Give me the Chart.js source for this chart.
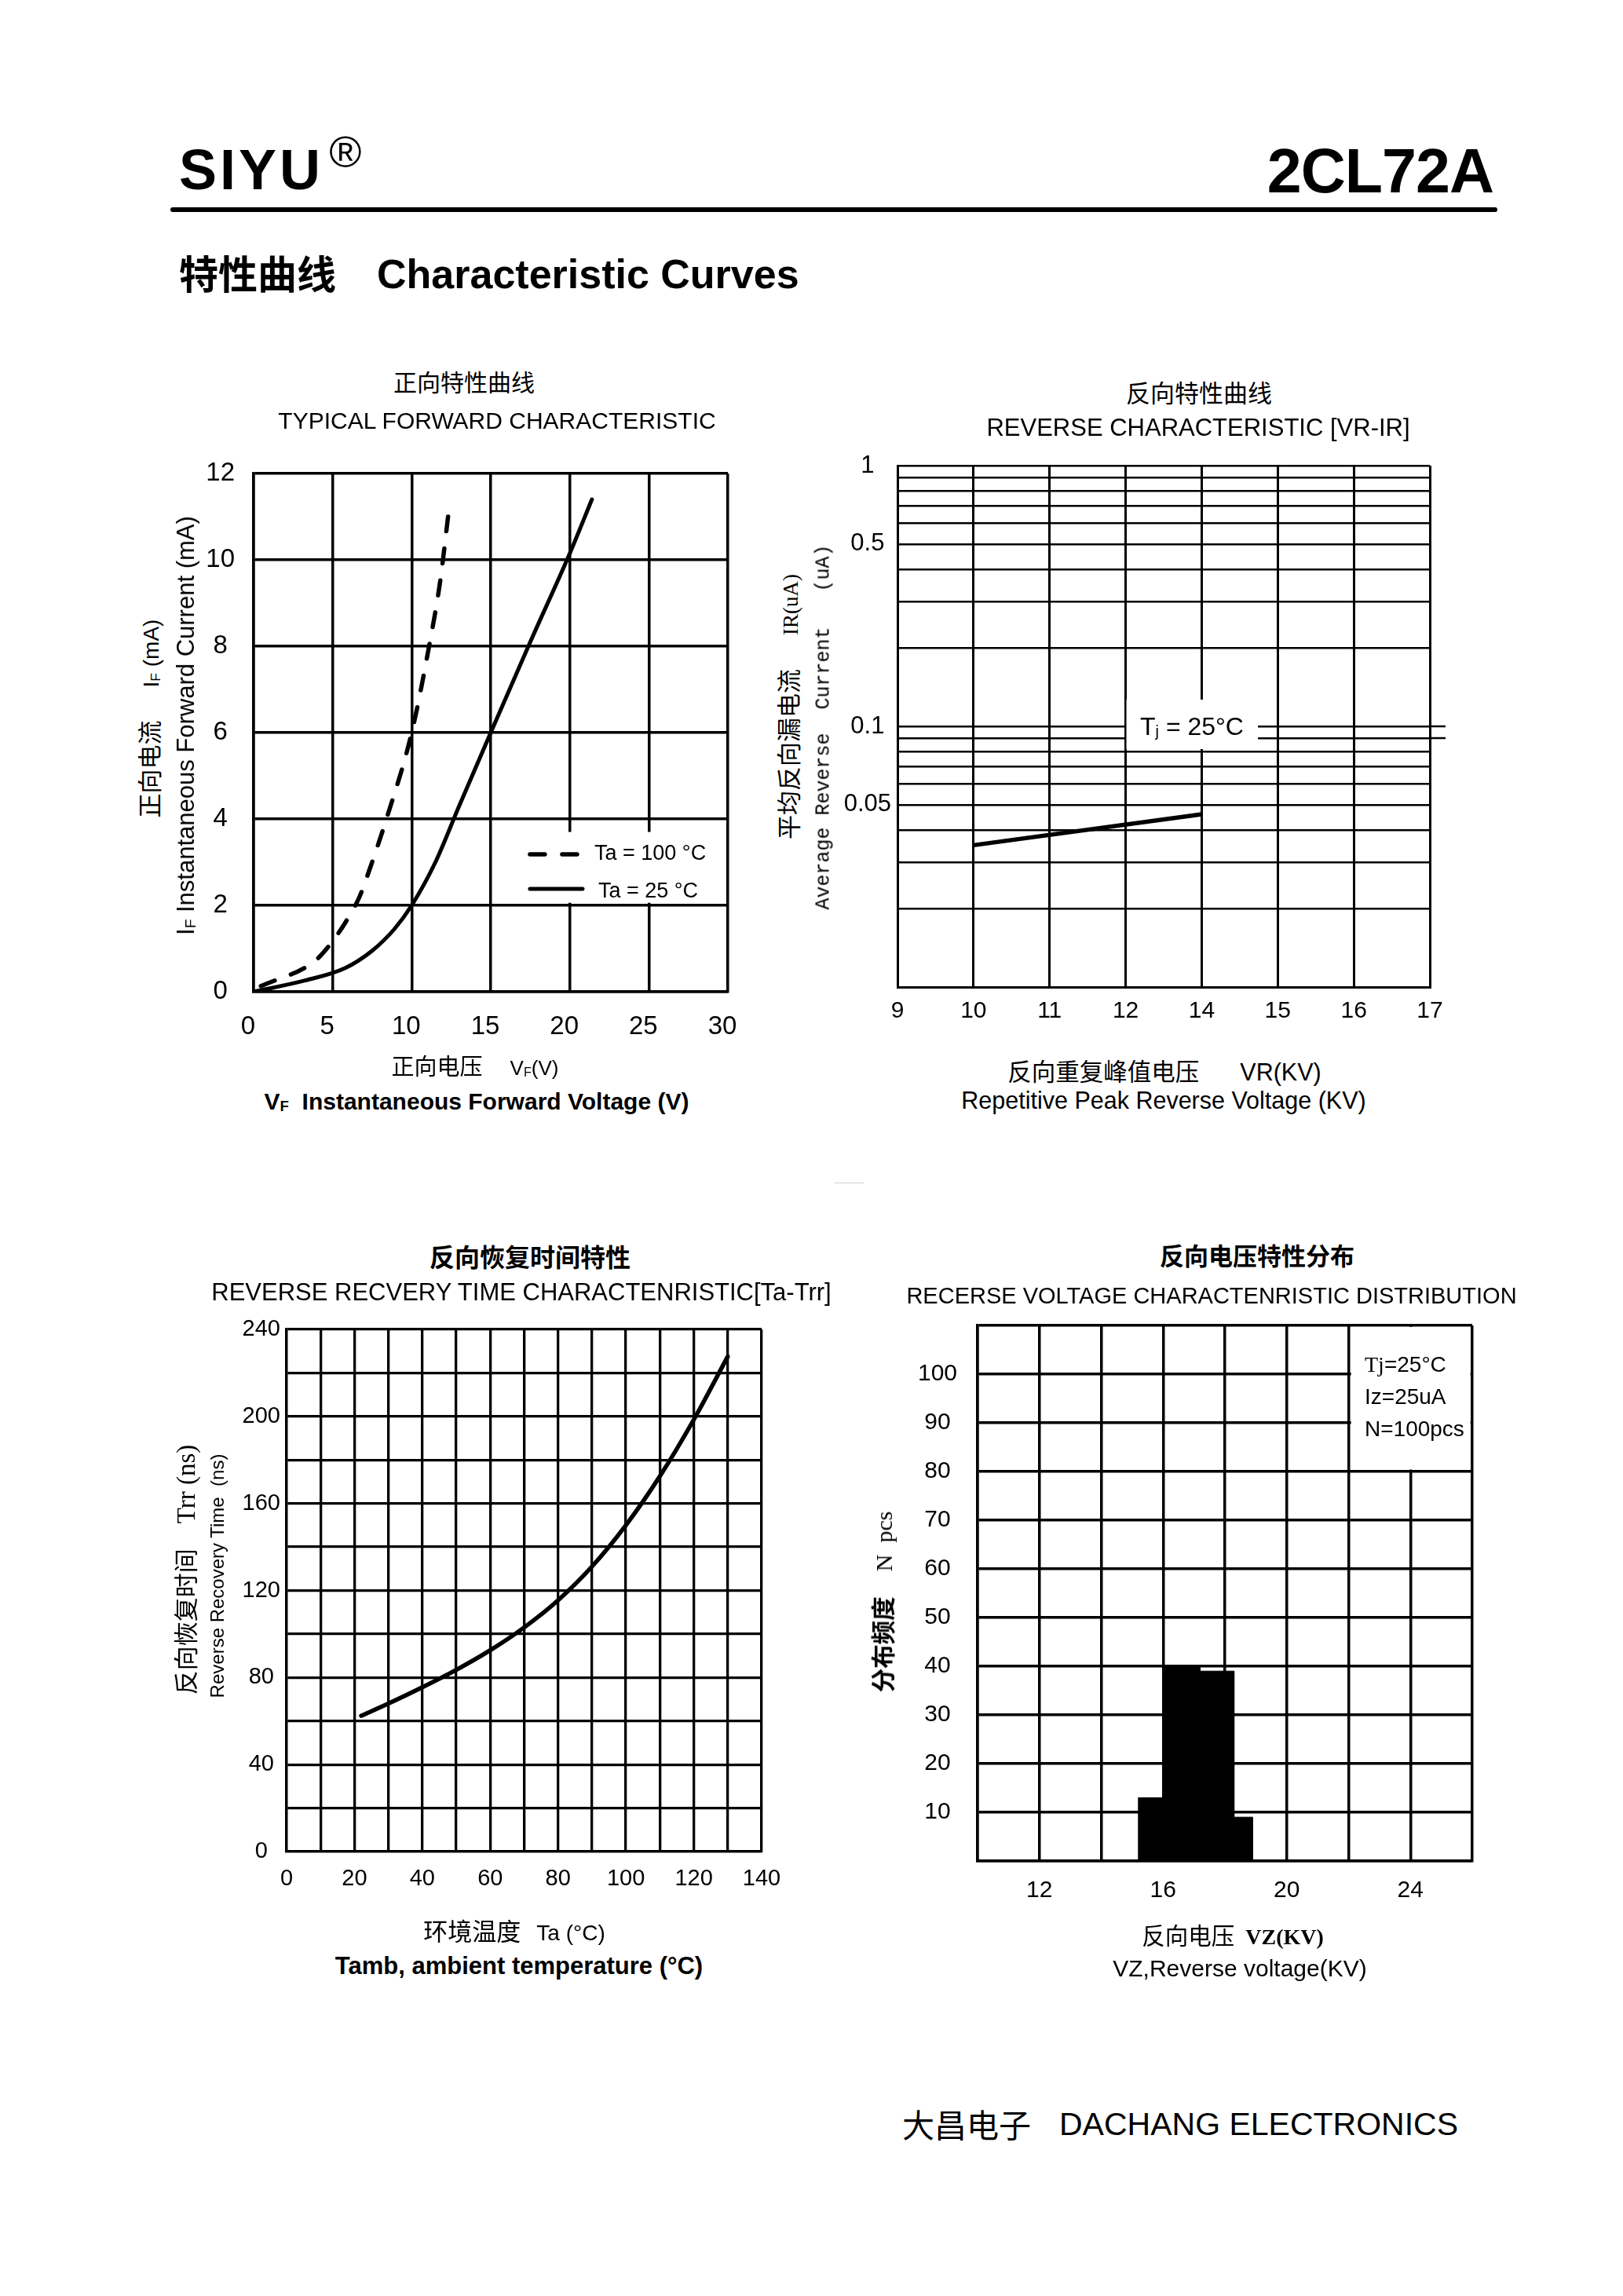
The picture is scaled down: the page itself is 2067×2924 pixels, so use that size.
<!DOCTYPE html>
<html><head><meta charset="utf-8">
<script src="https://cdn.jsdelivr.net/npm/chart.js@4.4.1/dist/chart.umd.min.js"></script>
<style>
html,body{margin:0;padding:0;background:#fff;}
#page{position:relative;width:2067px;height:2924px;background:#fff;overflow:hidden;}
.t{position:absolute;white-space:pre;line-height:1;color:#000;font-family:'Liberation Sans',Arial,sans-serif;z-index:5;}
.cjk{font-family:'Noto Sans CJK SC','Noto Sans CJK JP',sans-serif;}
.serif{font-family:'Liberation Serif','Times New Roman',serif;}
canvas{position:absolute;z-index:1;}
sub{font-size:0.62em;vertical-align:-0.12em;line-height:0;}
</style></head><body><div id="page"></div>
<script>
// ---------------- DATA ----------------
// Chart 1: typical forward characteristic
const fwdXTicks = [0, 5, 10, 15, 20, 25, 30];
const fwdYTicks = [0, 2, 4, 6, 8, 10, 12];
const fwd25V = [0, 3.25, 5.8, 7.5, 8.9, 10, 11.5, 13, 15, 17.5, 20, 21.4];
const fwd25I = [0, 0.26, 0.55, 0.95, 1.45, 2.0, 3.0, 4.3, 6.0, 8.1, 10.15, 11.4];
const fwd100V = [0.46, 3.8, 4.7, 5.8, 6.7, 7.4, 8.4, 10, 11.1, 11.8, 12.3];
const fwd100I = [0.13, 0.69, 1.03, 1.6, 2.2, 2.9, 4.0, 6.0, 8.0, 9.5, 11.0];
const fwdSeriesNames = ['Ta = 100 °C', 'Ta = 25 °C'];

// Chart 2: reverse characteristic (log IR)
const vrLabels = ['9', '10', '11', '12', '14', '15', '16', '17'];
const irGrid = [0.01, 0.02, 0.03, 0.04, 0.05, 0.06, 0.07, 0.08, 0.09, 0.1, 0.2, 0.3, 0.4, 0.5, 0.6, 0.7, 0.8, 0.9, 1];
const irTickLabels = [1, 0.5, 0.1, 0.05];
const irCurveVR = ['10', '14'];
const irCurveIR = [0.035, 0.046];

// Chart 3: reverse recovery time vs ambient temperature
const taGrid = [0, 10, 20, 30, 40, 50, 60, 70, 80, 90, 100, 110, 120, 130, 140];
const taTickLabels = [0, 20, 40, 60, 80, 100, 120, 140];
const trrGrid = [0, 20, 40, 60, 80, 100, 120, 140, 160, 180, 200, 220, 240];
const trrTickLabels = [0, 40, 80, 120, 160, 200, 240];
const trrTa = [22, 30, 40, 50, 60, 70, 80, 90, 100, 110, 120, 130];
const trrNs = [62.4, 68, 75.5, 83.5, 92.5, 103, 115.5, 131, 150, 172.5, 198.5, 227.5];

// Chart 4: reverse voltage distribution
const vzGrid = [10, 12, 14, 16, 18, 20, 22, 24, 26];
const vzTickLabels = [12, 16, 20, 24];
const nGrid = [0, 10, 20, 30, 40, 50, 60, 70, 80, 90, 100, 110];
const nTickLabels = [10, 20, 30, 40, 50, 60, 70, 80, 90, 100];
const vzBinEdges = [15.2, 16.0, 17.2, 18.3, 18.9];
const vzCounts = [13, 40, 39, 9];

// ---------------- HELPERS ----------------
const SANS = "'Liberation Sans', Arial, sans-serif";
const CJK = "'Noto Sans CJK SC', 'Noto Sans CJK JP', sans-serif";
const page = document.getElementById('page');

function T(html, x, y, font, o = {}) {
  const d = document.createElement('div');
  d.className = 't';
  d.innerHTML = html;
  d.style.left = x + 'px';
  d.style.top = y + 'px';
  d.style.font = font;
  if (o.ls) d.style.letterSpacing = o.ls;
  let tr = 'translate(-50%,-50%)';
  if (o.anchor === 'left') tr = 'translate(0,-50%)';
  if (o.anchor === 'right') tr = 'translate(-100%,-50%)';
  if (o.rot) tr = 'translate(-50%,-50%) rotate(-90deg)';
  d.style.transform = tr;
  page.appendChild(d);
  return d;
}
function box(x, y, w, h, bg, r) {
  const d = document.createElement('div');
  d.style.cssText = `position:absolute;left:${x}px;top:${y}px;width:${w}px;height:${h}px;background:${bg};border-radius:${r || 0}px;`;
  page.appendChild(d);
}
const pts = (xs, ys) => xs.map((x, i) => ({ x, y: ys[i] }));
const setTicks = arr => s => { s.ticks = arr.map(v => ({ value: v })); };
const labelIf = arr => v => (arr.includes(v) ? String(v) : '');

function decor(o) {
  return {
    id: 'decor',
    beforeDatasetsDraw(chart) {
      const ctx = chart.ctx, xs = chart.scales.x, ys = chart.scales.y;
      ctx.save();
      (o.masks || []).forEach(m => {
        const x1 = xs.getPixelForValue(m.x[0]), x2 = xs.getPixelForValue(m.x[1]);
        const y1 = ys.getPixelForValue(m.y[0]), y2 = ys.getPixelForValue(m.y[1]);
        ctx.fillStyle = '#fff';
        ctx.fillRect(Math.min(x1, x2), Math.min(y1, y2), Math.abs(x2 - x1), Math.abs(y2 - y1));
      });
      ctx.restore();
    },
    afterDatasetsDraw(chart) {
      const ctx = chart.ctx, xs = chart.scales.x, ys = chart.scales.y, a = chart.chartArea;
      ctx.save();
      (o.samples || []).forEach(s => {
        const d = chart.data.datasets[s.ds];
        ctx.strokeStyle = d.borderColor;
        ctx.lineWidth = d.borderWidth;
        ctx.setLineDash(d.borderDash || []);
        ctx.lineCap = d.borderCapStyle || 'butt';
        ctx.beginPath();
        ctx.moveTo(xs.getPixelForValue(s.x[0]), ys.getPixelForValue(s.y));
        ctx.lineTo(xs.getPixelForValue(s.x[1]), ys.getPixelForValue(s.y));
        ctx.stroke();
      });
      ctx.setLineDash([]);
      (o.stubs || []).forEach(v => {
        const y = Math.round(ys.getPixelForValue(v));
        ctx.strokeStyle = '#000';
        ctx.lineWidth = o.stubW || 2.5;
        ctx.beginPath();
        ctx.moveTo(a.right, y);
        ctx.lineTo(a.right + (o.stubLen || 18), y);
        ctx.stroke();
      });
      ctx.restore();
    }
  };
}

function makeChart(plot, cfg, plug) {
  const yW = 110, xH = 80, pad = { left: 0, top: 55, right: 45, bottom: 0 };
  const W = pad.left + yW + plot.w + pad.right, H = pad.top + plot.h + xH + pad.bottom;
  const c = document.createElement('canvas');
  c.width = W; c.height = H;
  c.style.left = (plot.x - yW - pad.left) + 'px';
  c.style.top = (plot.y - pad.top) + 'px';
  c.style.width = W + 'px'; c.style.height = H + 'px';
  page.appendChild(c);
  cfg.options = Object.assign({
    responsive: false, animation: false, devicePixelRatio: 1,
    layout: { padding: pad },
    plugins: { legend: { display: false }, tooltip: { enabled: false } },
    elements: { point: { radius: 0 } }
  }, cfg.options);
  cfg.options.scales.x.afterFit = s => { s.height = xH; };
  cfg.options.scales.y.afterFit = s => { s.width = yW; };
  cfg.plugins = [plug];
  return new Chart(c.getContext('2d'), cfg);
}
function axisStyle(lw, bw) {
  return {
    grid: { color: '#000', lineWidth: lw, drawTicks: false },
    border: { display: true, color: '#000', width: bw }
  };
}
Chart.defaults.color = '#000';
Chart.defaults.font.family = SANS;

// ---------------- HEADER ----------------
T('SIYU', 228, 216, `bold 72px ${SANS}`, { anchor: 'left', ls: '4px' });
T('®', 440, 193, `56px ${SANS}`);
T('2CL72A', 1902, 218, `bold 79px ${SANS}`, { anchor: 'right', ls: '-1px' });
box(217, 264, 1690, 6, '#000', 3);
T('特性曲线', 228, 346, `bold 50px ${CJK}`, { anchor: 'left' });
T('Characteristic Curves', 480, 349, `bold 52px ${SANS}`, { anchor: 'left' });
box(1063, 1506, 37, 1, '#ccc', 0);

// ---------------- CHART 1 ----------------
T('正向特性曲线', 591, 485, `30px ${CJK}`);
T('TYPICAL FORWARD CHARACTERISTIC', 633, 536, `30px ${SANS}`);
T('<span class="cjk">正向电压</span><span style="margin-left:35px;font-size:26px">V<sub>F</sub>(V)</span>', 605, 1356, `29px ${SANS}`);
T('V<sub>F</sub>  Instantaneous Forward Voltage (V)', 607, 1403, `bold 30px ${SANS}`);
T('<span class="cjk">正向电流</span><span style="margin-left:42px;font-size:28px">I<sub>F</sub> (mA)</span>', 188, 915, `31px ${SANS}`, { rot: true });
T('I<sub>F</sub> Instantaneous Forward Current (mA)', 237, 924, `31px ${SANS}`, { rot: true });
T(fwdSeriesNames[0], 757, 1086, `27px ${SANS}`, { anchor: 'left' });
T(fwdSeriesNames[1], 762, 1134, `27px ${SANS}`, { anchor: 'left' });

const s1 = axisStyle(3.5, 3.5);
makeChart({ x: 323, y: 603, w: 604, h: 660 }, {
  type: 'line',
  data: {
    datasets: [
      { label: fwdSeriesNames[0], data: pts(fwd100V, fwd100I), borderColor: '#000', borderWidth: 5.5,
        borderDash: [19, 22], borderCapStyle: 'round', cubicInterpolationMode: 'monotone', fill: false },
      { label: fwdSeriesNames[1], data: pts(fwd25V, fwd25I), borderColor: '#000', borderWidth: 5,
        cubicInterpolationMode: 'monotone', fill: false, borderCapStyle: 'round' }
    ]
  },
  options: {
    scales: {
      x: { type: 'linear', min: 0, max: 30, ...s1, afterBuildTicks: setTicks(fwdXTicks),
        ticks: { autoSkip: false, maxRotation: 0, padding: 25, labelOffset: -7, font: { size: 33 } } },
      y: { type: 'linear', min: 0, max: 12, ...s1, afterBuildTicks: setTicks(fwdYTicks),
        ticks: { autoSkip: false, padding: 24, crossAlign: 'center', font: { size: 33 } } }
    }
  }
}, decor({
  masks: [{ x: [16.8, 29.9], y: [2.06, 3.7] }],
  samples: [{ ds: 0, x: [17.48, 20.81], y: 3.18 }, { ds: 1, x: [17.48, 20.81], y: 2.38 }]
}));

// ---------------- CHART 2 ----------------
T('反向特性曲线', 1527, 498, `31px ${CJK}`);
T('REVERSE CHARACTERISTIC [VR-IR]', 1526, 545, `31px ${SANS}`);
T('<span class="cjk">反向重复峰值电压</span><span style="margin-left:52px">VR(KV)</span>', 1483, 1363, `30.5px ${SANS}`);
T('Repetitive Peak Reverse Voltage (KV)', 1482, 1401, `30.5px ${SANS}`);
T('<span class="cjk">平均反向漏电流</span><span class="serif" style="margin-left:43px;font-size:27px">IR(uA)</span>', 1002, 900, `31px ${SANS}`, { rot: true });
T('Average Reverse  Current   (uA)', 1049, 926, `25px 'Liberation Mono','Courier New',monospace`, { rot: true });
T('T<sub>j</sub> = 25°C', 1518, 925, `32px ${SANS}`);

makeChart({ x: 1143, y: 593, w: 678, h: 664 }, {
  type: 'line',
  data: {
    labels: vrLabels,
    datasets: [
      { label: 'IR', data: irCurveVR.map((v, i) => ({ x: v, y: irCurveIR[i] })), borderColor: '#000',
        borderWidth: 5.5, tension: 0, fill: false }
    ]
  },
  options: {
    scales: {
      x: { type: 'category', offset: false, ...axisStyle(3, 3),
        ticks: { autoSkip: false, maxRotation: 0, padding: 13, font: { size: 30 } } },
      y: { type: 'logarithmic', min: 0.01, max: 1, ...axisStyle(2.5, 3), afterBuildTicks: setTicks(irGrid),
        ticks: { autoSkip: false, padding: 8, crossAlign: 'center', callback: labelIf(irTickLabels),
          font: { size: 31 } } }
    }
  }
}, decor({
  masks: [{ x: [3.01, 4.74], y: [0.0818, 0.1266] }],
  stubs: [0.1, 0.09], stubLen: 20, stubW: 2.5
}));

// ---------------- CHART 3 ----------------
T('反向恢复时间特性', 675, 1599, `bold 32px ${CJK}`);
T('REVERSE RECVERY TIME CHARACTENRISTIC[Ta-Trr]', 664, 1646, `31px ${SANS}`);
T('<span class="cjk">环境温度</span><span style="margin-left:20px;font-size:28px">Ta (°C)</span>', 655, 2457, `31px ${SANS}`);
T('Tamb, ambient temperature (°C)', 661, 2504, `bold 31px ${SANS}`);
T('<span class="cjk">反向恢复时间</span><span class="serif" style="margin-left:32px;font-size:33px">Trr (ns)</span>', 234, 1999, `31px ${SANS}`, { rot: true });
T('Reverse Recovery Time  (ns)', 277, 2007, `24px ${SANS}`, { rot: true });

const s3 = axisStyle(3.3, 3.3);
makeChart({ x: 365, y: 1693, w: 605, h: 665 }, {
  type: 'line',
  data: {
    datasets: [
      { label: 'Trr', data: pts(trrTa, trrNs), borderColor: '#000', borderWidth: 5.5,
        cubicInterpolationMode: 'monotone', fill: false, borderCapStyle: 'round' }
    ]
  },
  options: {
    scales: {
      x: { type: 'linear', min: 0, max: 140, ...s3, afterBuildTicks: setTicks(taGrid),
        ticks: { autoSkip: false, maxRotation: 0, padding: 18, callback: labelIf(taTickLabels), font: { size: 29 } } },
      y: { type: 'linear', min: 0, max: 240, ...s3, afterBuildTicks: setTicks(trrGrid),
        ticks: { autoSkip: false, padding: 8, crossAlign: 'center', callback: labelIf(trrTickLabels), font: { size: 29 } } }
    }
  }
}, decor({}));

// ---------------- CHART 4 ----------------
T('反向电压特性分布', 1601, 1597, `bold 31px ${CJK}`);
T('RECERSE VOLTAGE CHARACTENRISTIC DISTRIBUTION', 1543, 1650, `29px ${SANS}`);
T('<span class="cjk">反向电压</span><span class="serif" style="margin-left:14px;font-size:28px;font-weight:bold">VZ(KV)</span>', 1570, 2463, `29.5px ${SANS}`);
T('VZ,Reverse voltage(KV)', 1579, 2507, `30px ${SANS}`);
T('<span class="cjk" style="font-weight:bold">分布频度</span><span class="serif" style="margin-left:32px;font-size:30px">N  pcs</span>', 1123, 2040, `30.5px ${SANS}`, { rot: true });
T('<span class="serif">Tj</span>=25°C', 1738, 1738, `28px ${SANS}`, { anchor: 'left' });
T('Iz=25uA', 1738, 1779, `28px ${SANS}`, { anchor: 'left' });
T('N=100pcs', 1738, 1820, `28px ${SANS}`, { anchor: 'left' });

const histPts = [{ x: vzBinEdges[0], y: 0 }]
  .concat(vzCounts.map((c, i) => ({ x: vzBinEdges[i], y: c })))
  .concat([{ x: vzBinEdges[vzBinEdges.length - 1], y: 0 }]);
const s4 = axisStyle(3.5, 3.5);
makeChart({ x: 1245, y: 1688, w: 630, h: 682 }, {
  type: 'line',
  data: {
    datasets: [
      { label: 'N', data: histPts, stepped: 'before', fill: 'origin', backgroundColor: '#000',
        borderColor: '#000', borderWidth: 1 }
    ]
  },
  options: {
    scales: {
      x: { type: 'linear', min: 10, max: 26, ...s4, afterBuildTicks: setTicks(vzGrid),
        ticks: { autoSkip: false, maxRotation: 0, padding: 20, callback: labelIf(vzTickLabels), font: { size: 30 } } },
      y: { type: 'linear', min: 0, max: 110, ...s4, afterBuildTicks: setTicks(nGrid),
        ticks: { autoSkip: false, padding: 26, crossAlign: 'center', callback: labelIf(nTickLabels), font: { size: 30 } } }
    }
  }
}, decor({
  masks: [{ x: [22.08, 25.94], y: [80.4, 109.7] }]
}));

// ---------------- FOOTER ----------------
T('大昌电子', 1149, 2704, `41px ${CJK}`, { anchor: 'left' });
T('DACHANG ELECTRONICS', 1349, 2705, `41px ${SANS}`, { anchor: 'left' });
</script>
</body></html>
